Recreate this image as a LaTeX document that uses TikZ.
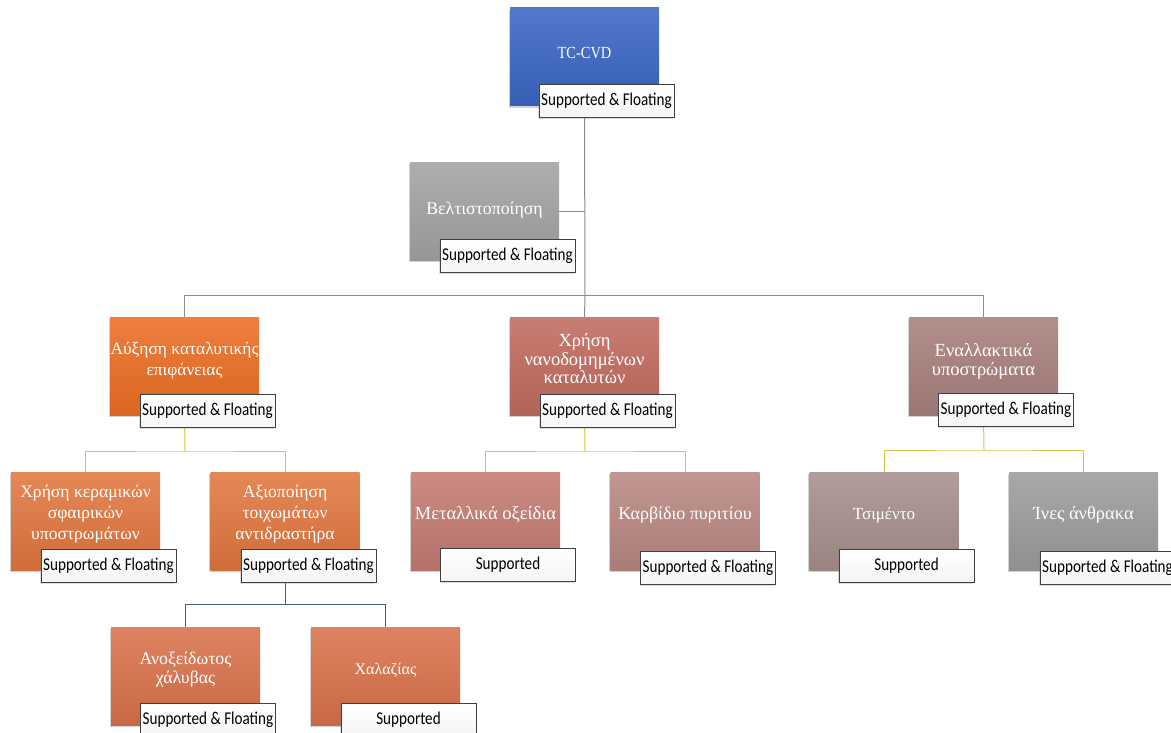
\documentclass[tikz,border=0pt]{standalone}
\usepackage{fontspec}
\setmainfont{Liberation Serif}
\newfontfamily\narrowserif[FakeStretch=0.85]{Liberation Serif}
\newfontfamily\lblfont[FakeStretch=0.84]{Carlito}
\usetikzlibrary{shadows}
\pgfdeclarelayer{bg}
\pgfsetlayers{bg,main}
\definecolor{cBlue}{HTML}{3A66C4}
\definecolor{cGray}{HTML}{A3A3A3}
\definecolor{cOrA}{HTML}{EC6E24}
\definecolor{cOrB}{HTML}{E2773F}
\definecolor{cOrC}{HTML}{D9724C}
\definecolor{cRedA}{HTML}{C26B5F}
\definecolor{cRedB}{HTML}{C47B72}
\definecolor{cRedC}{HTML}{B98782}
\definecolor{cMauA}{HTML}{A8807C}
\definecolor{cMauB}{HTML}{A68F8D}
\definecolor{cGrB}{HTML}{9C9C9C}
\definecolor{lnGray}{HTML}{8C8C8C}
\definecolor{lnYel}{HTML}{D6C44E}
\definecolor{lnBlue}{HTML}{46627E}
\newcommand{\fs}[2]{\fontsize{#1}{#2}\selectfont}
\begin{document}
\begin{tikzpicture}[x=1pt,y=-1pt,
  box/.style={draw=none, minimum width=149pt, minimum height=98pt, inner sep=0pt,
    top color=#1!88!white, bottom color=#1!92!black,
    drop shadow={shadow xshift=-1.5pt, shadow yshift=-2pt, opacity=0.35}},
  txt/.style={text=white, align=center, inner sep=0pt},
  lbl/.style={draw=black!75, line width=0.6pt, top color=white, bottom color=black!4,
    minimum width=135pt, minimum height=33pt, inner sep=0pt,
    font=\lblfont\fs{18}{20},
    drop shadow={shadow xshift=-1pt, shadow yshift=-1.5pt, opacity=0.25}},
  conn/.style={line width=1pt, draw=#1}
]
\begin{pgfonlayer}{bg}
\fill[white] (0,0) rectangle (1171,732);
\end{pgfonlayer}
\useasboundingbox (0,0) rectangle (1171,732);

% boxes
\node[box=cBlue] (tc) at (584.5,56.5) {};
\node[box=cGray] (bel) at (484.5,211) {};
\node[box=cOrA] (aux) at (184.5,366) {};
\node[box=cRedA] (nano) at (584.5,366) {};
\node[box=cMauA] (enal) at (983.5,366) {};
\node[box=cOrB] (ker) at (85.5,521) {};
\node[box=cOrB] (axi) at (285,521) {};
\node[box=cRedB] (met) at (485.5,521) {};
\node[box=cRedC] (kar) at (685,521) {};
\node[box=cMauB] (tsi) at (884,521) {};
\node[box=cGrB] (ine) at (1083.5,521) {};
\node[box=cOrC] (ano) at (185.5,676) {};
\node[box=cOrC] (xal) at (385.5,676) {};

% texts
\node[txt, font=\narrowserif\fs{17}{20}] (tctx) at ([yshift=4pt]tc.center) {TC-CVD};
\node[txt, font=\fs{17.8}{21}] (beltx) at ([yshift=1pt]bel.center) {Βελτιστοποίηση};
\node[txt, font=\fs{17.4}{21}] (auxtx) at ([yshift=5pt]aux.center) {Αύξηση καταλυτικής\\επιφάνειας};
\node[txt, font=\fs{18.5}{18.5}] (nanotx) at ([yshift=7pt]nano.center) {Χρήση\\νανοδομημένων\\καταλυτών};
\node[txt, font=\fs{18.5}{19}] (enaltx) at ([yshift=5pt]enal.center) {Εναλλακτικά\\υποστρώματα};
\node[txt, font=\fs{17.6}{21}] (kertx) at ([yshift=7pt]ker.center) {Χρήση κεραμικών\\σφαιρικών\\υποστρωμάτων};
\node[txt, font=\fs{17.6}{21}] (axitx) at ([yshift=7pt]axi.center) {Αξιοποίηση\\τοιχωμάτων\\αντιδραστήρα};
\node[txt, font=\fs{18.5}{21}] (mettx) at ([yshift=6pt]met.center) {Μεταλλικά οξείδια};
\node[txt, font=\fs{18}{21}] (kartx) at ([yshift=6pt]kar.center) {Καρβίδιο πυριτίου};
\node[txt, font=\fs{17}{21}] (tsitx) at ([yshift=6pt]tsi.center) {Τσιμέντο};
\node[txt, font=\fs{18.5}{21}] (inetx) at ([yshift=6pt]ine.center) {Ίνες άνθρακα};
\node[txt, font=\fs{17.8}{19}] (anotx) at ([yshift=6pt]ano.center) {Ανοξείδωτος\\χάλυβας};
\node[txt, font=\fs{16}{21}] (xaltx) at ([yshift=6pt]xal.center) {Χαλαζίας};

% labels
\node[lbl] (tcl) at (606.5,100.5) {Supported \& Floating};
\node[lbl] (bell) at (507.5,255.5) {Supported \& Floating};
\node[lbl] (auxl) at (207.5,410.5) {Supported \& Floating};
\node[lbl] (nanol) at (607.5,410.5) {Supported \& Floating};
\node[lbl] (enall) at (1006,410) {Supported \& Floating};
\node[lbl] (kerl) at (108.5,565.5) {Supported \& Floating};
\node[lbl] (axil) at (308.5,565.5) {Supported \& Floating};
\node[lbl] (metl) at (508,564.5) {Supported};
\node[lbl] (karl) at (708,567.5) {Supported \& Floating};
\node[lbl] (tsil) at (906.5,565.5) {Supported};
\node[lbl] (inel) at (1107.5,567.5) {Supported \& Floating};
\node[lbl] (anol) at (208,719.5) {Supported \& Floating};
\node[lbl] (xall) at (408.5,719.5) {Supported};

% bus coordinates
\coordinate (busA) at (585,295);
\coordinate (busB1) at (185,451);
\coordinate (busB2) at (585,451);
\coordinate (busB3) at (984,450);
\coordinate (busC) at (285,604);

\begin{pgfonlayer}{bg}
  % main
  \draw[conn=lnGray] (tc.south) -- (busA);
  \draw[conn=lnGray] (bel.east) -- (bel.east -| busA);
  \draw[conn=lnGray] (aux.north) |- (busA);
  \draw[conn=lnGray] (enal.north) |- (busA);
  \draw[conn=lnGray] (busA) -- (nano.north);
  % yellow
  \draw[conn=lnYel] (aux.south) -- (busB1);
  \draw[conn=lnYel] (ker.north) |- (busB1) -| (axi.north);
  \draw[conn=lnYel] (nano.south) -- (busB2);
  \draw[conn=lnYel] (met.north) |- (busB2) -| (kar.north);
  \draw[conn=lnYel] (enal.south) -- (busB3);
  \draw[conn=lnYel] (tsi.north) |- (busB3) -| (ine.north);
  % blue
  \draw[conn=lnBlue] (axi.south) -- (busC);
  \draw[conn=lnBlue] (ano.north) |- (busC) -| (xal.north);
\end{pgfonlayer}
\end{tikzpicture}
\end{document}
